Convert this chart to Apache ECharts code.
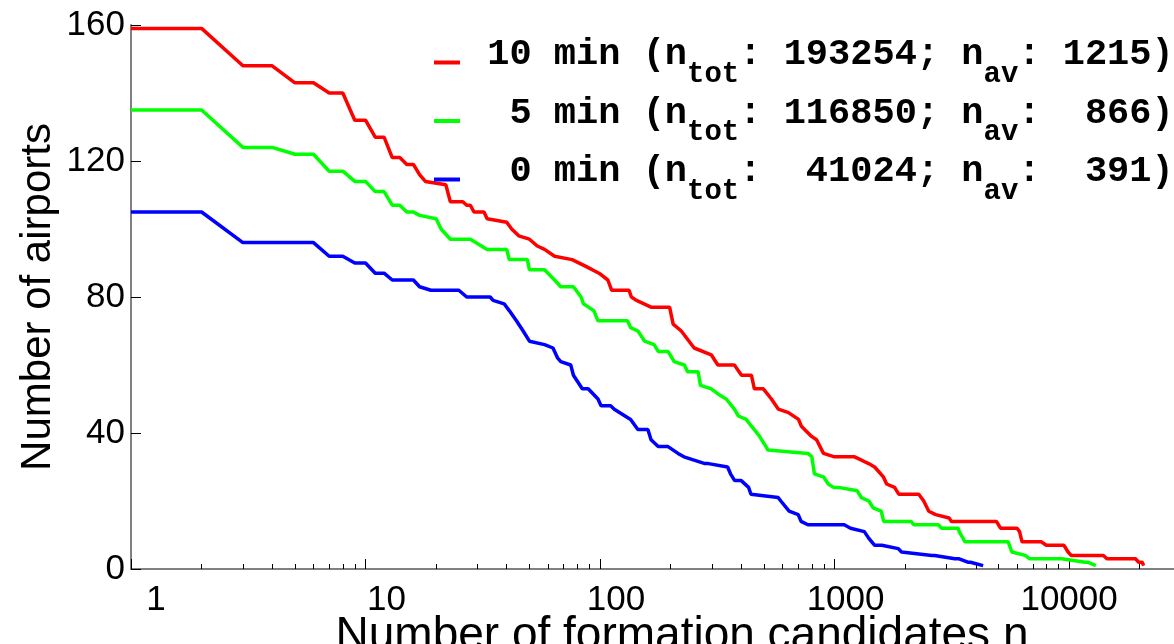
<!DOCTYPE html>
<html>
<head>
<meta charset="utf-8">
<script src="https://cdn.jsdelivr.net/npm/echarts@6/dist/echarts.min.js"></script>
<style>
  html, body { margin: 0; padding: 0; background: #fff; }
  #chart { width: 1174px; height: 644px; }
</style>
</head>
<body>
<div id="chart"></div>
<script>
// candidates n (x) and number of airports (y)
const nRed = [1, 2, 3, 4, 5, 6, 7, 8, 9, 10, 11, 12, 13, 14, 15, 16, 17, 18, 22, 23, 26, 27, 28, 29, 32, 33,
  40, 42, 45, 50, 54, 58, 64, 76, 87, 99, 108, 112, 133, 136, 143, 165, 198, 205, 222, 252, 298, 318, 374,
  401, 442, 455, 497, 538, 576, 636, 702, 722, 798, 838, 897, 1000, 1217, 1304, 1397, 1482, 1618, 1667,
  1803, 1878, 2286, 2400, 2522, 2700, 3080, 3150, 4900, 5100, 6000, 6150, 6300, 7600, 8000, 9500, 9900,
  10200, 14000, 14500, 19200, 19800, 20500, 20800];
const cRed = [159, 159, 148, 148, 143, 143, 140, 140, 132, 132, 127, 127, 121, 121, 119, 119, 116, 114, 113,
  108, 108, 107, 107, 105, 105, 103, 102, 100, 98, 97, 95, 94, 92, 91, 89, 87, 85, 82, 82, 80, 79, 77, 77,
  72, 70, 65, 63, 60, 60, 57, 57, 53, 53, 50, 47, 46, 44, 42, 39, 38, 34, 33, 33, 32, 31, 30, 27, 25, 24,
  22, 22, 20, 17, 16, 15, 14, 14, 12, 12, 11, 8, 8, 7, 7, 5, 4, 4, 3, 3, 2, 2, 1];

const nGreen = [1, 2, 3, 4, 5, 6, 7, 8, 9, 10, 11, 12, 13, 14, 15, 16, 17, 20, 21, 23, 28, 33, 40, 41, 49,
  50, 58, 64, 68, 77, 83, 85, 94, 98, 131, 135, 145, 155, 170, 177, 195, 207, 229, 236, 262, 268, 298, 326,
  345, 374, 389, 420, 442, 455, 479, 510, 520, 770, 800, 820, 900, 940, 990, 1040, 1250, 1300, 1400, 1460,
  1580, 1620, 2120, 2180, 2770, 2860, 3370, 3400, 3600, 5500, 5700, 6500, 6800, 9100, 9300, 11700, 12000,
  13000];
const cGreen = [135, 135, 124, 124, 122, 122, 117, 117, 114, 114, 111, 111, 107, 107, 105, 105, 104, 103,
  100, 97, 97, 94, 94, 91, 91, 88, 88, 85, 83, 83, 80, 78, 76, 73, 73, 71, 70, 67, 66, 64, 64, 61, 60, 58,
  58, 54, 53, 51, 50, 47, 45, 44, 42, 41, 39, 36, 35, 34, 33, 28, 27, 25, 24, 24, 23, 21, 20, 18, 17, 14,
  14, 13, 13, 12, 12, 11, 8, 8, 5, 4, 3, 3, 3, 2, 2, 1];

const nBlue = [1, 2, 3, 6, 7, 8, 9, 10, 11, 12, 13, 16, 17, 19, 25, 27, 34, 35, 39, 41, 44, 45, 47, 50, 58,
  63, 66, 68, 75, 77, 84, 89, 98, 101, 111, 115, 135, 145, 160, 165, 177, 195, 215, 228, 280, 290, 350,
  360, 375, 400, 430, 440, 575, 590, 640, 700, 720, 770, 1100, 1170, 1340, 1400, 1480, 1590, 1870, 1930,
  2600, 2670, 3260, 3400, 3700, 3800, 4300];
const cBlue = [105, 105, 96, 96, 92, 92, 90, 90, 87, 87, 85, 85, 83, 82, 82, 80, 80, 79, 78, 76, 73, 72, 70,
  67, 66, 65, 62, 61, 60, 57, 53, 53, 50, 48, 48, 47, 44, 41, 41, 38, 36, 36, 34, 33, 31, 31, 30, 28, 26,
  26, 24, 22, 21, 20, 17, 16, 14, 13, 13, 12, 11, 9, 7, 7, 6, 5, 4, 4, 3, 3, 2, 2, 1];

const seriesNames = ["10 min", "5 min", "0 min"];
const legendTexts = [
  ["10 min (n", ": 193254; n", ": 1215)"],
  [" 5 min (n", ": 116850; n", ":  866)"],
  [" 0 min (n", ":  41024; n", ":  391)"]
];
const majorTicks = [1, 10, 100, 1000, 10000];
const minorTicks = [2, 3, 4, 5, 6, 7, 8, 9, 20, 30, 40, 50, 60, 70, 80, 90, 200, 300, 400, 500, 600, 700,
  800, 900, 2000, 3000, 4000, 5000, 6000, 7000, 8000, 9000, 20000, 30000, 40000];

const toPairs = (xs, ys) => xs.map((x, i) => [x, ys[i]]);

let myChart = echarts.init(document.getElementById("chart"));

// label shift to the right, as in the figure
const labelKey = { 1: "a", 10: "b", 100: "c", 1000: "d", 10000: "e" };
const lab = pad => ({ fontSize: 35, fontFamily: "Liberation Sans", color: "#000", padding: [0, 0, 0, pad] });

const legendLine = {
  fontFamily: "Liberation Mono", fontWeight: "bold", fontSize: 37, color: "#000",
  lineHeight: 40, padding: [0, 0, 15, 0]
};
const legendSub = {
  fontFamily: "Liberation Mono", fontWeight: "bold", fontSize: 29, color: "#000",
  lineHeight: 40, padding: [24, 0, 0, 0]
};

let option = {
  animation: false,
  backgroundColor: "#fff",
  grid: { left: 131, top: 25, bottom: 75, right: -59, outerBoundsMode: "none", containLabel: false },
  legend: {
    orient: "vertical",
    left: 434,
    top: 36,
    padding: 0,
    itemGap: 5.5,
    itemWidth: 26,
    itemHeight: 4,
    icon: "rect",
    selectedMode: false,
    data: seriesNames,
    formatter: name => {
      let t = legendTexts[seriesNames.indexOf(name)];
      return "{m| " + t[0] + "}{s|tot}{m|" + t[1] + "}{s|av}{m|" + t[2] + "}";
    },
    textStyle: { rich: { m: legendLine, s: legendSub } }
  },
  xAxis: [
    {
      type: "log",
      min: 1,
      max: 50000,
      name: "Number of formation candidates n",
      nameLocation: "middle",
      nameGap: 44,
      nameMoveOverlap: false,
      nameTextStyle: { fontSize: 46, fontFamily: "Liberation Sans", color: "#000" },
      axisLine: { lineStyle: { color: "#808080", width: 2 } },
      axisTick: { inside: true, length: 10, customValues: majorTicks, lineStyle: { color: "#000", width: 1 } },
      axisLabel: {
        customValues: majorTicks,
        margin: 14,
        formatter: v => "{" + labelKey[v] + "|" + v + "}",
        rich: { a: lab(50), b: lab(42), c: lab(32), d: lab(22), e: lab(0) }
      },
      splitLine: { show: false }
    },
    {
      type: "log",
      min: 1,
      max: 50000,
      position: "bottom",
      axisLine: { show: false },
      axisTick: { inside: true, length: 5, customValues: minorTicks, lineStyle: { color: "#000", width: 1 } },
      axisLabel: { show: false },
      splitLine: { show: false }
    }
  ],
  yAxis: {
    type: "value",
    min: 0,
    max: 160,
    interval: 40,
    name: "Number of airports",
    nameLocation: "middle",
    nameGap: 72,
    nameMoveOverlap: false,
    nameTextStyle: { fontSize: 42, fontFamily: "Liberation Sans", color: "#000" },
    axisLine: { show: true, lineStyle: { color: "#808080", width: 2 } },
    axisTick: { show: true, inside: true, length: 10, lineStyle: { color: "#000", width: 1 } },
    axisLabel: { fontSize: 35, fontFamily: "Liberation Sans", color: "#000", margin: 6 },
    splitLine: { show: false }
  },
  series: [
    { name: seriesNames[0], type: "line", data: toPairs(nRed, cRed), color: "#ff0000" },
    { name: seriesNames[1], type: "line", data: toPairs(nGreen, cGreen), color: "#00ff00" },
    { name: seriesNames[2], type: "line", data: toPairs(nBlue, cBlue), color: "#0000ff" }
  ].map(s => Object.assign(s, {
    showSymbol: false,
    symbol: "none",
    lineStyle: { width: 3.5 },
    z: 3
  }))
};
myChart.setOption(option);
</script>
</body>
</html>
